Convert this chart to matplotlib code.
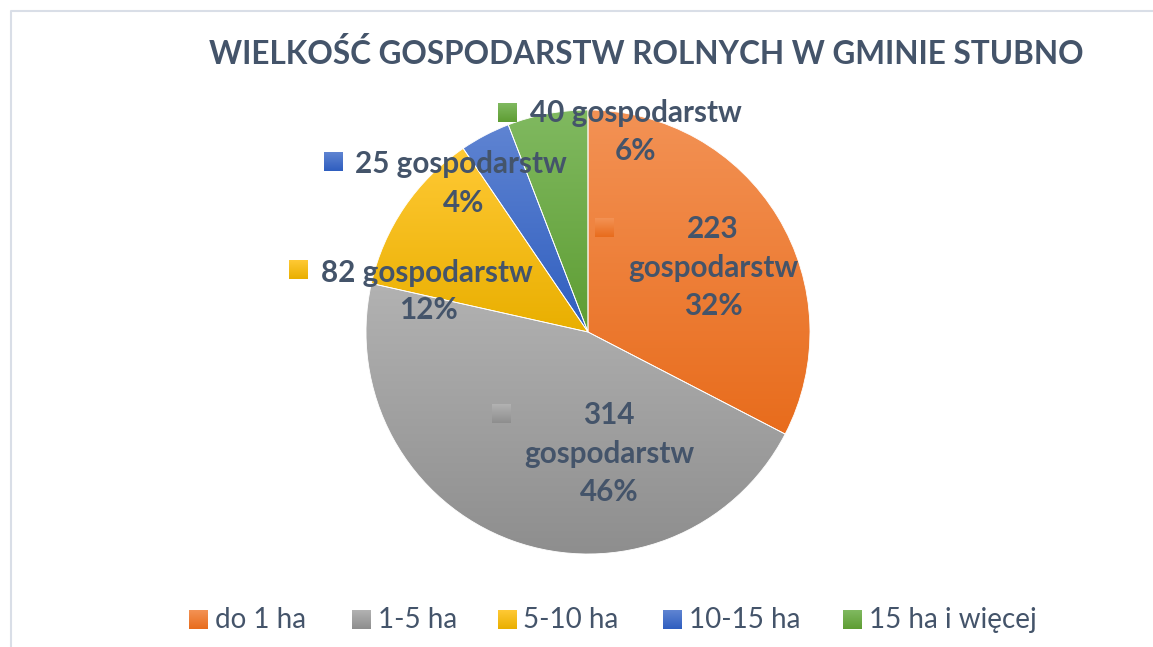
import matplotlib
matplotlib.use("Agg")
import matplotlib.pyplot as plt
import numpy as np
from matplotlib.colors import LinearSegmentedColormap

categories = ["do 1 ha", "1-5 ha", "5-10 ha", "10-15 ha", "15 ha i więcej"]
counts = [223, 314, 82, 25, 40]
percent_labels = ["32%", "46%", "12%", "4%", "6%"]
title = "WIELKOŚĆ GOSPODARSTW ROLNYCH W GMINIE STUBNO"

top_colors = ["#F39255", "#B2B2B2", "#FFC935", "#5F84D2", "#80B960"]
bot_colors = ["#E86C1C", "#8E8E8E", "#E9AF00", "#2F5EBF", "#5E9D33"]
text_color = "#44546A"
FONT = "Lato"

W, H = 1153, 647
fig = plt.figure(figsize=(W / 100, H / 100), dpi=100)
ax = fig.add_axes([0, 0, 1, 1])


def py(y):
    return H - y


# frame
ax.plot([10.5, 10.5, W + 5], [py(650), py(11), py(11)], color="#D9DEE7", lw=1.5,
        solid_capstyle="butt")

# title
ax.text(646, py(53), title, ha="center", va="center", fontsize=22.7,
        fontweight="bold", color=text_color, family=FONT)

cx, cy, r = 588, py(332), 222
wedges, _ = ax.pie(counts, center=(cx, cy), radius=r, startangle=90, counterclock=False,
                   frame=True, wedgeprops=dict(edgecolor="white", linewidth=0.6, facecolor="none"))

for w, c0, c1 in zip(wedges, top_colors, bot_colors):
    path = w.get_path().transformed(w.get_patch_transform())
    bb = path.get_extents()
    cmap = LinearSegmentedColormap.from_list("g", [c1, c0])
    grad = np.linspace(0, 1, 256).reshape(-1, 1)
    im = ax.imshow(grad, cmap=cmap, extent=[bb.x0, bb.x1, bb.y0, bb.y1], origin="lower",
                   aspect="auto", zorder=0.5, interpolation="bilinear")
    im.set_clip_path(w)
    w.set_zorder(1)


def marker(x, y, i, s=19):
    cmap = LinearSegmentedColormap.from_list("g", [bot_colors[i], top_colors[i]])
    grad = np.linspace(0, 1, 64).reshape(-1, 1)
    ax.imshow(grad, cmap=cmap, extent=[x - s / 2, x + s / 2, py(y) - s / 2, py(y) + s / 2],
              origin="lower", aspect="auto", zorder=3)


lab_fs = 21.3


def lab(x, y, s):
    ax.text(x, py(y), s, ha="center", va="center", fontsize=lab_fs,
            fontweight="bold", color=text_color, family=FONT, zorder=4)


# green
marker(507, 113, 4)
lab(636, 113, f"{counts[4]} gospodarstw")
lab(636, 151, percent_labels[4])
# blue
marker(333, 162, 3)
lab(461, 164, f"{counts[3]} gospodarstw")
lab(464, 203, percent_labels[3])
# yellow
marker(298, 270, 2)
lab(427, 273, f"{counts[2]} gospodarstw")
lab(428, 310, percent_labels[2])
# orange
marker(604, 228, 0)
lab(713, 229, f"{counts[0]}")
lab(713, 268, "gospodarstw")
lab(713, 306, percent_labels[0])
# gray
marker(501, 414, 1)
lab(609, 415, f"{counts[1]}")
lab(609, 454, "gospodarstw")
lab(609, 492, percent_labels[1])

# legend
leg_marker_x = [198, 361, 507, 672, 852]
leg_text_x = [215, 378, 523, 689, 869]
for i, cat in enumerate(categories):
    marker(leg_marker_x[i], 620, i, s=19)
    ax.text(leg_text_x[i], py(620), cat, ha="left", va="center", fontsize=20,
            color=text_color, family=FONT)

ax.set_xlim(0, W)
ax.set_ylim(0, H)
ax.set_aspect("equal")
ax.axis("off")
fig.savefig("out.png", dpi=100)
